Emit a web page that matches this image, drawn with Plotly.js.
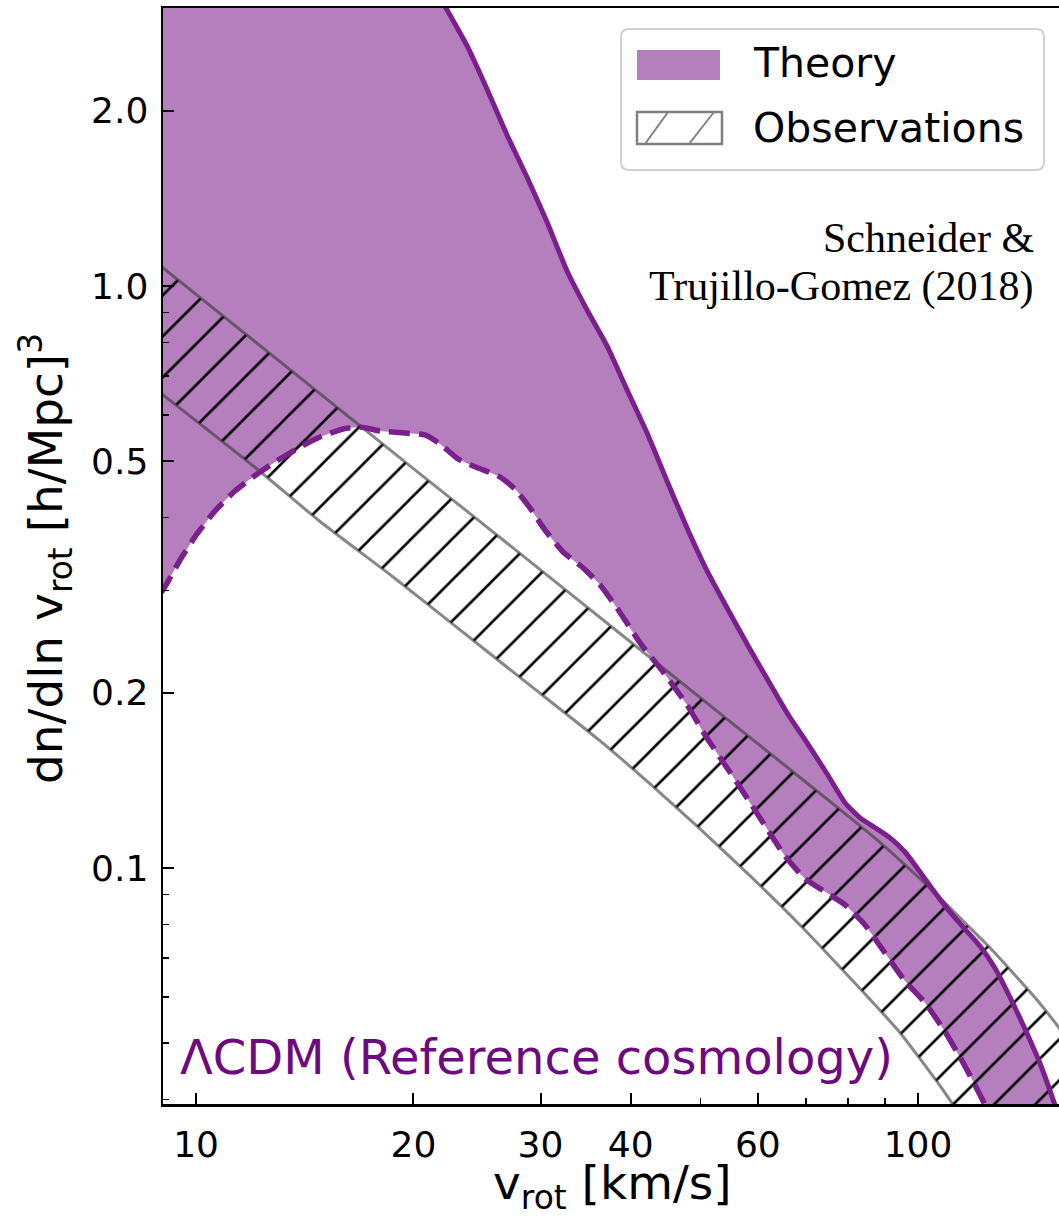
<!DOCTYPE html>
<html>
<head>
<meta charset="utf-8">
<script src="https://cdn.plot.ly/plotly-3.0.1.min.js"></script>
<style>
  html, body { margin: 0; padding: 0; overflow: hidden; background: #fff; }
  #chart { width: 1070px; height: 1218px; }
</style>
</head>
<body>
<div id="chart"></div>
<script>
// Rotation-velocity function dn/dln v_rot, LambdaCDM reference cosmology.

// Theory band: upper envelope (solid)
const theoryUpperV = [8.9, 12, 16, 20, 21.5, 22.27, 23.74, 25.29, 26.96, 28.73, 30.63, 32.65, 34.80,
  37.09, 39.54, 42.14, 44.91, 47.87, 51.03, 54.39, 57.97, 61.80, 65.87, 70.21, 74.84, 79.26, 83.14,
  87.22, 91.48, 95.94, 100.64, 105.57, 110.73, 116.14, 121.82, 127.78, 134.03, 140.60, 147.48,
  152.26, 157.22, 164.92];
const theoryUpperN = [20, 12, 6, 3.8, 3.22, 2.980, 2.585, 2.180, 1.817, 1.539, 1.288, 1.061, 0.9094,
  0.7887, 0.6627, 0.5590, 0.4623, 0.3838, 0.3238, 0.2797, 0.2426, 0.2113, 0.1846, 0.1640, 0.1450, 0.1293, 0.1219,
  0.1172, 0.1126, 0.1065, 0.0984, 0.0906, 0.0840, 0.0785, 0.0734, 0.0673, 0.0600, 0.0529, 0.0462,
  0.0415, 0.0369, 0.0309];

// Theory band: lower envelope (dashed)
const theoryLowerV = [8.9, 9.00, 9.503, 10.03, 10.625, 11.32, 12.15, 13.07, 13.93, 14.85, 15.98, 16.87,
  17.98, 19.48, 20.76, 21.78, 23.06, 24.58, 26.20, 27.66, 29.01, 30.43, 32.24, 34.36, 36.28, 38.29,
  41.21, 44.35, 47.87, 50.70, 54.04, 57.60, 61.40, 65.43, 69.75, 74.32, 79.23, 84.45, 90.00, 95.94,
  102.3, 109.0, 116.1, 123.8, 129.9];
const theoryLowerN = [0.296, 0.3003, 0.3382, 0.3749, 0.4106, 0.4443, 0.4753, 0.5044, 0.5289, 0.5502, 0.5679, 0.5724,
  0.5635, 0.5590, 0.5546, 0.5352, 0.5044, 0.4867, 0.4716, 0.4478, 0.4155, 0.3808, 0.3491, 0.3278, 0.3064, 0.2797,
  0.2435, 0.2172, 0.1906, 0.1692, 0.1503, 0.1335, 0.1181, 0.1048, 0.0958, 0.0910, 0.0864, 0.0798, 0.0714, 0.0639,
  0.0586, 0.0523, 0.0457, 0.0392, 0.0348];

// Observational band: upper bound
const obsUpperV = [8.9, 9.0, 13.93, 19.98, 24.74, 33.28, 47.26, 65.02, 76.25, 87.75, 100.64, 108.3,
  116.9, 125.8, 135.4, 146.2, 156.8, 167.6, 178.7, 196.7];
const obsUpperN = [1.086, 1.074, 0.6959, 0.4859, 0.3937, 0.2934, 0.2071, 0.1509, 0.1288, 0.1117, 0.0958, 0.0878,
  0.0798, 0.0729, 0.0660, 0.0593, 0.0531, 0.0473, 0.0419, 0.0341];

// Observational band: lower bound
const obsLowerV = [8.9, 9.0, 12.15, 14.85, 18.75, 23.21, 28.73, 36.28, 42.55, 49.90, 58.54, 68.63,
  80.52, 94.43, 107.3, 118.0];
const obsLowerN = [0.657, 0.650, 0.4848, 0.3938, 0.3162, 0.2564, 0.2079, 0.1653, 0.1394, 0.1167, 0.0969, 0.0798,
  0.0647, 0.0521, 0.0422, 0.0355];

// Axis ticks
const xTickVals = [10, 20, 30, 40, 60, 100];
const xTickText = ['10', '20', '30', '40', '60', '100'];
const xMinorVals = [50, 70, 80, 90];
const yTickVals = [0.1, 0.2, 0.5, 1.0, 2.0];
const yTickText = ['0.1', '0.2', '0.5', '1.0', '2.0'];
const yMinorVals = [0.04, 0.05, 0.06, 0.07, 0.08, 0.09, 0.3, 0.4, 0.6, 0.7, 0.8, 0.9];

const xRange = [9.0, 159.8];
const yRange = [0.03929, 3.004];

// Colours
const fillPurple = 'rgb(181,127,189)';
const linePurple = 'rgb(123,31,140)';
const textPurple = '#6e0a80';
const edgeGray = 'rgba(55,55,55,0.6)';

// Page geometry
const W = 1070, H = 1218;
const M = {l: 163, r: 5, t: 8, b: 114};
const plotW = W - M.l - M.r;
const plotH = H - M.t - M.b;
const px = x => (x - M.l) / plotW;
const py = y => (H - M.b - y) / plotH;

const sans = 'DejaVu Sans, Verdana, sans-serif';
const serif = 'Liberation Serif, Times New Roman, serif';
const curve = {shape: 'spline', smoothing: 0.5};

const traces = [
  { // theory lower bound (fill anchor)
    x: theoryLowerV, y: theoryLowerN, mode: 'lines',
    line: Object.assign({width: 0, color: fillPurple}, curve),
    hoverinfo: 'skip', showlegend: false
  },
  { // theory band fill
    x: theoryUpperV, y: theoryUpperN, mode: 'lines', fill: 'tonexty', fillcolor: fillPurple,
    line: Object.assign({width: 0, color: fillPurple}, curve),
    hoverinfo: 'skip', showlegend: false
  },
  { // observations lower bound
    x: obsLowerV, y: obsLowerN, mode: 'lines',
    line: Object.assign({width: 3, color: edgeGray}, curve),
    hoverinfo: 'skip', showlegend: false
  },
  { // observations upper bound with hatching
    x: obsUpperV, y: obsUpperN, mode: 'lines', fill: 'tonexty', fillcolor: 'rgba(0,0,0,0)',
    fillpattern: {shape: '/', size: 29, solidity: 0.09, fgcolor: '#000', bgcolor: 'rgba(0,0,0,0)'},
    line: Object.assign({width: 3, color: edgeGray}, curve),
    hoverinfo: 'skip', showlegend: false
  },
  { // theory lower envelope
    x: theoryLowerV, y: theoryLowerN, mode: 'lines',
    line: Object.assign({width: 5.5, color: linePurple, dash: '21px,9px'}, curve),
    hoverinfo: 'skip', showlegend: false
  },
  { // theory upper envelope
    x: theoryUpperV, y: theoryUpperN, mode: 'lines',
    line: Object.assign({width: 5, color: linePurple}, curve),
    hoverinfo: 'skip', showlegend: false
  }
];

// Legend box with rounded corners
const bx0 = 621, by0 = 29, bx1 = 1044, by1 = 170, rad = 8;
const rx = rad / plotW, ry = rad / plotH;
const L = px(bx0), R = px(bx1), T = py(by0), B = py(by1);
const legendPath = `M${L + rx},${T} L${R - rx},${T} Q${R},${T} ${R},${T - ry} ` +
  `L${R},${B + ry} Q${R},${B} ${R - rx},${B} L${L + rx},${B} Q${L},${B} ${L},${B + ry} ` +
  `L${L},${T - ry} Q${L},${T} ${L + rx},${T} Z`;

const shapes = [
  {type: 'path', xref: 'paper', yref: 'paper', path: legendPath,
   fillcolor: 'rgba(255,255,255,0.85)', line: {color: '#d0d0d0', width: 2}, layer: 'above'},
  {type: 'rect', xref: 'paper', yref: 'paper', x0: px(637), x1: px(720), y0: py(80), y1: py(50),
   fillcolor: fillPurple, line: {width: 0}, layer: 'above'},
  {type: 'rect', xref: 'paper', yref: 'paper', x0: px(637), x1: px(722), y0: py(144), y1: py(112),
   fillcolor: 'rgba(0,0,0,0)', line: {color: '#808080', width: 2.5}, layer: 'above'},
  {type: 'line', xref: 'paper', yref: 'paper', x0: px(645), y0: py(144), x1: px(668), y1: py(112),
   line: {color: '#808080', width: 2}, layer: 'above'},
  {type: 'line', xref: 'paper', yref: 'paper', x0: px(689), y0: py(144), x1: px(714), y1: py(112),
   line: {color: '#808080', width: 2}, layer: 'above'}
];

const ann = (text, x, y, opts) => Object.assign({
  text, x: px(x), y: py(y), xref: 'paper', yref: 'paper', showarrow: false,
  xanchor: 'left', yanchor: 'middle', font: {family: sans, size: 41, color: '#000'}
}, opts || {});

const annotations = [
  ann('Theory', 751, 63),
  ann('Observations', 751, 128),
  ann('Schneider &amp;', 1036, 238, {xanchor: 'right', font: {family: serif, size: 42, color: '#000'}}),
  ann('Trujillo-Gomez (2018)', 1036, 286, {xanchor: 'right', font: {family: serif, size: 42, color: '#000'}}),
  ann('\u039BCDM (Reference cosmology)', 178, 1057, {font: {family: sans, size: 48, color: textPurple}}),
  ann('v<sub>rot</sub> [km/s]', 612, 1186, {xanchor: 'center', font: {family: sans, size: 47, color: '#000'}}),
  ann('dn/dln v<sub>rot</sub> [h/Mpc]<sup>3</sup>', 45, 559,
      {xanchor: 'center', textangle: -90, font: {family: sans, size: 47, color: '#000'}})
];

const axisCommon = {
  type: 'log', tickmode: 'array', ticks: 'inside', ticklen: 11, tickwidth: 2, tickcolor: '#000',
  showline: true, linewidth: 2.5, linecolor: '#000', mirror: true,
  showgrid: false, zeroline: false, fixedrange: true,
  tickfont: {family: sans, size: 36, color: '#000'}
};

const layout = {
  width: W, height: H,
  margin: M,
  paper_bgcolor: '#fff', plot_bgcolor: '#fff',
  showlegend: false,
  xaxis: Object.assign({}, axisCommon, {
    range: xRange.map(Math.log10), tickvals: xTickVals, ticktext: xTickText,
    ticklabelstandoff: 7,
    minor: {tickmode: 'array', tickvals: xMinorVals, ticks: 'inside', ticklen: 6, tickwidth: 1.5, tickcolor: '#000'}
  }),
  yaxis: Object.assign({}, axisCommon, {
    range: yRange.map(Math.log10), tickvals: yTickVals, ticktext: yTickText,
    ticklabelstandoff: 5,
    minor: {tickmode: 'array', tickvals: yMinorVals, ticks: 'inside', ticklen: 6, tickwidth: 1.5, tickcolor: '#000'}
  }),
  shapes, annotations
};

Plotly.newPlot('chart', traces, layout, {staticPlot: true, displayModeBar: false});
</script>
</body>
</html>
